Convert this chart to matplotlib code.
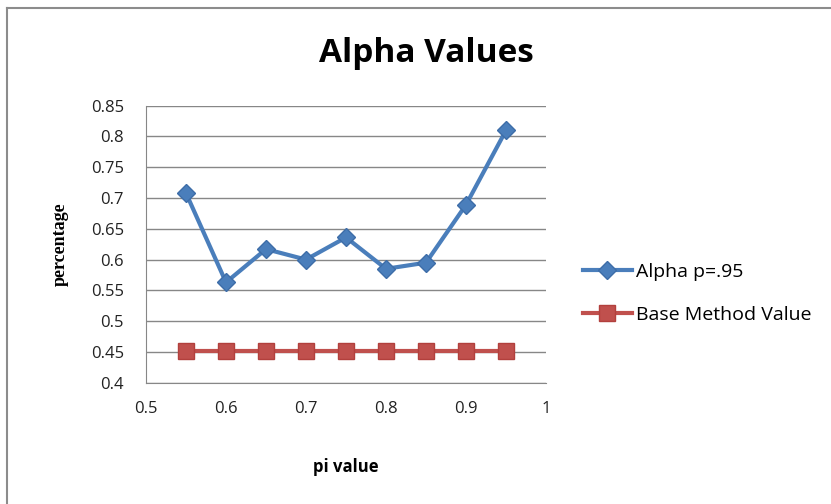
import matplotlib.pyplot as plt
from matplotlib.lines import Line2D

pi_values = [0.55, 0.6, 0.65, 0.7, 0.75, 0.8, 0.85, 0.9, 0.95]
alpha_values = [0.708, 0.563, 0.617, 0.600, 0.636, 0.585, 0.595, 0.689, 0.810]
base_values = [0.452] * len(pi_values)

y_ticks = [0.4, 0.45, 0.5, 0.55, 0.6, 0.65, 0.7, 0.75, 0.8, 0.85]
y_labels = ["0.4", "0.45", "0.5", "0.55", "0.6", "0.65", "0.7", "0.75", "0.8", "0.85"]
x_ticks = [0.5, 0.6, 0.7, 0.8, 0.9, 1.0]
x_labels = ["0.5", "0.6", "0.7", "0.8", "0.9", "1"]

blue = "#4a7ebb"
red = "#c0504d"


def main():
    plt.rcParams["font.family"] = ["Open Sans", "DejaVu Sans"]
    fig = plt.figure(figsize=(8.31, 5.04), dpi=100)
    ax = fig.add_axes([146 / 831, 121.3 / 504, 400 / 831, 277 / 504])

    ax.plot(pi_values, alpha_values, color=blue, lw=3, marker="D", ms=9,
            mec="#3d6da8", mfc=blue, label="Alpha p=.95", zorder=3)
    ax.plot(pi_values, base_values, color=red, lw=3, marker="s", ms=12,
            mec="#b2403d", mfc=red, label="Base Method Value", zorder=3)

    ax.set_xlim(0.5, 1.0)
    ax.set_ylim(0.4, 0.85)
    ax.set_yticks(y_ticks, y_labels)
    ax.set_xticks(x_ticks, x_labels)
    ax.tick_params(length=0, labelsize=12, colors="#222222")
    ax.tick_params(axis="x", pad=13)
    ax.tick_params(axis="y", pad=16)
    ax.grid(axis="y", color="#878787", lw=1)
    ax.set_axisbelow(True)
    for side in ["top", "right"]:
        ax.spines[side].set_visible(False)
    ax.spines["left"].set_color("#878787")
    ax.spines["bottom"].set_color("#878787")

    ax.set_xlabel("pi value", fontsize=12, fontweight="bold", labelpad=30)
    ax.set_ylabel("percentage", fontsize=13, fontweight="bold", labelpad=16,
                  family=["Liberation Serif", "DejaVu Serif"])
    fig.text(426 / 831, 1 - 62 / 504, "Alpha Values", fontsize=24,
             fontweight="bold", ha="center", va="baseline")

    ax.legend(loc="center left", bbox_to_anchor=(583 / 831, 1 - 293.5 / 504),
              bbox_transform=fig.transFigure, frameon=False, fontsize=14,
              handlelength=2.5, labelspacing=1.3, handletextpad=0.2,
              borderaxespad=0, borderpad=0)

    # chart border, cut off at right and bottom
    fig.add_artist(Line2D([7 / 831, 7 / 831], [0, 1 - 8 / 504],
                          color="#8c8c8c", lw=1.5))
    fig.add_artist(Line2D([7 / 831, 1], [1 - 8 / 504, 1 - 8 / 504],
                          color="#8c8c8c", lw=1.5))

    fig.savefig("out.png", dpi=100)


if __name__ == "__main__":
    main()
